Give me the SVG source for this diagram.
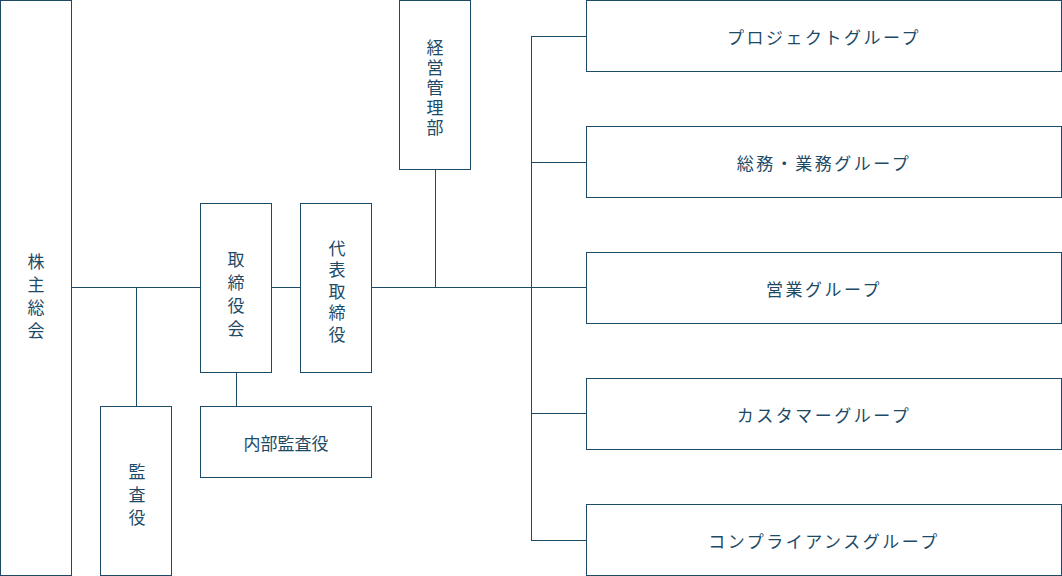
<svg xmlns="http://www.w3.org/2000/svg" width="1062" height="576" viewBox="0 0 1062 576">
<style>
rect{fill:#fff;stroke:#1d4a66;stroke-width:1}
text{font-family:"Noto Sans CJK JP","Noto Sans",sans-serif;font-size:17px;fill:#1d4a66;text-anchor:middle;dominant-baseline:central}
.h{letter-spacing:2.5px}
line{stroke:#1d4a66;stroke-width:1}
</style>
<rect x="0" y="0" width="1062" height="576" style="stroke:none"/>
<g id="connectors">
<line x1="71" y1="287.5" x2="200" y2="287.5"/>
<line x1="271" y1="287.5" x2="300" y2="287.5"/>
<line x1="371" y1="287.5" x2="531" y2="287.5"/>
<line x1="136.5" y1="287" x2="136.5" y2="406"/>
<line x1="236.5" y1="372" x2="236.5" y2="406"/>
<line x1="435.5" y1="169" x2="435.5" y2="287"/>
<line x1="531.5" y1="36" x2="531.5" y2="540"/>
<line x1="531" y1="36.5" x2="586" y2="36.5"/>
<line x1="531" y1="162.5" x2="586" y2="162.5"/>
<line x1="531" y1="287.5" x2="586" y2="287.5"/>
<line x1="531" y1="413.5" x2="586" y2="413.5"/>
<line x1="531" y1="540.5" x2="586" y2="540.5"/>
</g>
<g id="kabunushi"><rect x="0.5" y="0.5" width="71" height="575"/>
<text x="36" y="260">株</text><text x="36" y="283">主</text><text x="36" y="306">総</text><text x="36" y="329">会</text></g>
<g id="kansayaku"><rect x="100.5" y="406.5" width="71" height="169"/>
<text x="137" y="470">監</text><text x="137" y="493">査</text><text x="137" y="516">役</text></g>
<g id="torishimariyakukai"><rect x="200.5" y="203.5" width="71" height="169"/>
<text x="236" y="258">取</text><text x="236" y="281">締</text><text x="236" y="304">役</text><text x="236" y="327">会</text></g>
<g id="daihyo"><rect x="300.5" y="203.5" width="71" height="169"/>
<text x="337" y="247">代</text><text x="337" y="268">表</text><text x="337" y="290">取</text><text x="337" y="311">締</text><text x="337" y="333">役</text></g>
<g id="naibu"><rect x="200.5" y="406.5" width="171" height="71"/>
<text x="286" y="442">内部監査役</text></g>
<g id="keiei"><rect x="399.5" y="0.5" width="71" height="169"/>
<text x="435" y="46">経</text><text x="435" y="66">営</text><text x="435" y="86">管</text><text x="435" y="106">理</text><text x="435" y="126">部</text></g>
<g id="g1"><rect x="586.5" y="0.5" width="475" height="71"/><text class="h" x="824" y="36">プロジェクトグループ</text></g>
<g id="g2"><rect x="586.5" y="126.5" width="475" height="71"/><text class="h" x="824" y="162">総務・業務グループ</text></g>
<g id="g3"><rect x="586.5" y="252.5" width="475" height="71"/><text class="h" x="824" y="288">営業グループ</text></g>
<g id="g4"><rect x="586.5" y="378.5" width="475" height="71"/><text class="h" x="824" y="414">カスタマーグループ</text></g>
<g id="g5"><rect x="586.5" y="504.5" width="475" height="71"/><text class="h" x="824" y="540">コンプライアンスグループ</text></g>
</svg>
